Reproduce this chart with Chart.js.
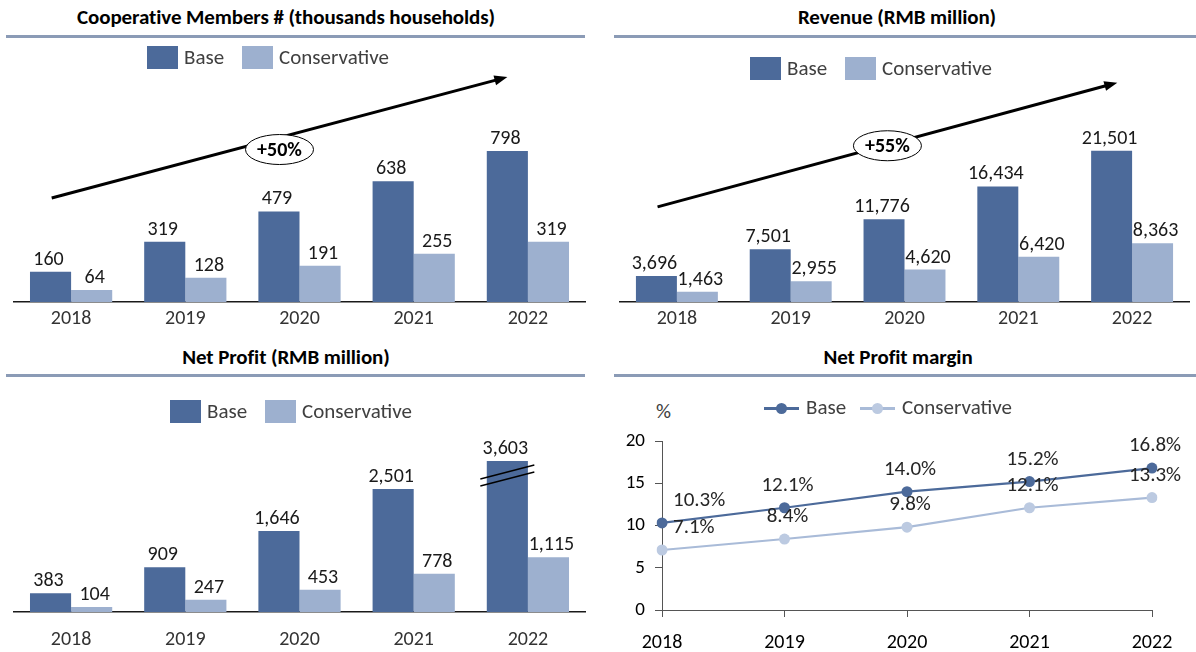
<!DOCTYPE html>
<html>
<head>
<meta charset="utf-8">
<title>Cooperative forecast</title>
<script src="https://cdn.jsdelivr.net/npm/chart.js@4.4.0/dist/chart.umd.min.js"></script>
<style>
  body { margin: 0; width: 1196px; height: 652px; position: relative; overflow: hidden; background: #fff;
         font-family: Carlito, Lato, sans-serif; }
  canvas { position: absolute; }
  .title { position: absolute; width: 600px; text-align: center; font-weight: bold; font-size: 21px;
           line-height: 24px; color: #000; letter-spacing: -0.1px; white-space: nowrap; }
  .rule { position: absolute; height: 3px; background: #8b9bb6; }
  .lg { position: absolute; font-size: 21px; line-height: 24px; color: #404040; white-space: nowrap; }
  .sw { position: absolute; width: 31px; height: 23px; }
  .ln { position: absolute; height: 3px; width: 35px; }
  .dot { position: absolute; width: 11px; height: 11px; border-radius: 50%; }
</style>
</head>
<body>

<div class="title" style="left:-14px;top:5px">Cooperative Members # (thousands households)</div>
<div class="rule" style="left:6px;top:35px;width:579px"></div>
<div class="title" style="left:597px;top:5px">Revenue (RMB million)</div>
<div class="rule" style="left:614px;top:35px;width:582px"></div>
<div class="title" style="left:-14px;top:345px">Net Profit (RMB million)</div>
<div class="rule" style="left:6px;top:374px;width:579px"></div>
<div class="title" style="left:598px;top:345px">Net Profit margin</div>
<div class="rule" style="left:614px;top:374px;width:582px"></div>
<div class="lg" style="left:656px;top:399px">%</div>

<canvas id="membersChart" width="600" height="330" style="left:0;top:0"></canvas>
<canvas id="revenueChart" width="596" height="330" style="left:600px;top:0"></canvas>
<canvas id="profitChart" width="600" height="322" style="left:0;top:330px"></canvas>
<canvas id="marginChart" width="596" height="322" style="left:600px;top:330px"></canvas>

<script>
// Data
const years = ["2018", "2019", "2020", "2021", "2022"];
const seriesNames = ["Base", "Conservative"];

const membersBase = [160, 319, 479, 638, 798];
const membersConservative = [64, 128, 191, 255, 319];

const revenueBase = [3696, 7501, 11776, 16434, 21501];
const revenueConservative = [1463, 2955, 4620, 6420, 8363];

const profitBase = [383, 909, 1646, 2501, 3603];
const profitConservative = [104, 247, 453, 778, 1115];

const marginBase = [10.3, 12.1, 14.0, 15.2, 16.8];
const marginConservative = [7.1, 8.4, 9.8, 12.1, 13.3];
const marginTicks = [0, 5, 10, 15, 20];

// Colours
const darkBlue = "#4c6a9a";
const lightBlue = "#9db0cf";
const lineLight = "#a9bbd8";
const dotLight = "#bccae1";
const fontFamily = "Carlito, Lato, sans-serif";

Chart.defaults.font.family = fontFamily;
Chart.defaults.animation = false;

/**
 * Write the value labels above the bars
 */
const barLabels = {
  id: "barLabels",
  afterDatasetsDraw(chart, args, opts) {
    const ctx = chart.ctx;
    ctx.save();
    ctx.font = "20px " + fontFamily;
    ctx.fillStyle = "#1a1a1a";
    ctx.textAlign = "center";
    ctx.textBaseline = "alphabetic";
    chart.data.datasets.forEach(function (ds, i) {
      chart.getDatasetMeta(i).data.forEach(function (bar, j) {
        const top = Math.max(bar.y, chart.chartArea.top);
        ctx.fillText(ds.data[j].toLocaleString("en-US"), bar.x + opts.shift[i], top - 7);
      });
    });
    ctx.restore();
  },
};

/**
 * Growth arrow with the circled percentage
 */
const trendArrow = {
  id: "trendArrow",
  afterDatasetsDraw(chart, args, opts) {
    if (!opts.from) return;
    const ctx = chart.ctx;
    const xs = chart.scales.x;
    const ys = chart.scales.y;
    const x1 = xs.getPixelForValue(opts.from[0]);
    const y1 = ys.getPixelForValue(opts.from[1]);
    const x2 = xs.getPixelForValue(opts.to[0]);
    const y2 = ys.getPixelForValue(opts.to[1]);
    const ang = Math.atan2(y2 - y1, x2 - x1);
    ctx.save();
    ctx.strokeStyle = "#000";
    ctx.fillStyle = "#000";
    ctx.lineWidth = 3;
    ctx.beginPath();
    ctx.moveTo(x1, y1);
    ctx.lineTo(x2 - 10 * Math.cos(ang), y2 - 10 * Math.sin(ang));
    ctx.stroke();
    ctx.beginPath();
    ctx.moveTo(x2, y2);
    ctx.lineTo(x2 - 13 * Math.cos(ang) + 5 * Math.sin(ang), y2 - 13 * Math.sin(ang) - 5 * Math.cos(ang));
    ctx.lineTo(x2 - 13 * Math.cos(ang) - 5 * Math.sin(ang), y2 - 13 * Math.sin(ang) + 5 * Math.cos(ang));
    ctx.closePath();
    ctx.fill();
    // ellipse
    const cx = x1 + (x2 - x1) * opts.t;
    const cy = y1 + (y2 - y1) * opts.t + opts.dy;
    ctx.beginPath();
    ctx.ellipse(cx, cy, 34, 15, 0, 0, Math.PI * 2);
    ctx.fillStyle = "#fff";
    ctx.fill();
    ctx.lineWidth = 1;
    ctx.stroke();
    ctx.fillStyle = "#000";
    ctx.font = "bold 20px " + fontFamily;
    ctx.textAlign = "center";
    ctx.textBaseline = "middle";
    ctx.fillText(opts.label, cx, cy + 1);
    ctx.restore();
  },
};

/**
 * Break marks on a truncated bar
 */
const axisBreak = {
  id: "axisBreak",
  afterDatasetsDraw(chart, args, opts) {
    if (opts.index === undefined) return;
    const bar = chart.getDatasetMeta(opts.dataset).data[opts.index];
    const top = chart.chartArea.top;
    const ctx = chart.ctx;
    ctx.save();
    ctx.strokeStyle = "#000";
    ctx.lineWidth = 1.3;
    [0, 7].forEach(function (off) {
      ctx.beginPath();
      ctx.moveTo(bar.x - 27, top + 18 + off);
      ctx.lineTo(bar.x + 27, top + 4 + off);
      ctx.stroke();
    });
    ctx.restore();
  },
};

/**
 * Percent labels on the margin lines
 */
const pointLabels = {
  id: "pointLabels",
  afterDatasetsDraw(chart) {
    const ctx = chart.ctx;
    ctx.save();
    ctx.font = "21px " + fontFamily;
    ctx.fillStyle = "#262626";
    ctx.textBaseline = "middle";
    chart.data.datasets.forEach(function (ds, i) {
      chart.getDatasetMeta(i).data.forEach(function (pt, j) {
        const text = ds.data[j].toFixed(1) + "%";
        if (j === 0) {
          ctx.textAlign = "left";
          ctx.fillText(text, pt.x + 11, pt.y - 22);
        } else {
          ctx.textAlign = "center";
          ctx.fillText(text, pt.x + 3, pt.y - 22);
        }
      });
    });
    ctx.restore();
  },
};

/**
 * Grouped bar chart for one panel
 */
function createBarChart(id, base, conservative, cfg) {
  const ctx = document.getElementById(id).getContext("2d");
  return new Chart(ctx, {
    type: "bar",
    data: {
      labels: years,
      datasets: [
        { label: seriesNames[0], data: base, backgroundColor: darkBlue, clip: 0 },
        { label: seriesNames[1], data: conservative, backgroundColor: lightBlue, clip: 0 },
      ],
    },
    options: {
      responsive: false,
      layout: { padding: cfg.padding },
      datasets: { bar: { categoryPercentage: 0.72, barPercentage: 1 } },
      scales: {
        x: {
          grid: { display: false, drawTicks: false },
          border: { display: true, color: "#1a1a1a", width: 1.5 },
          ticks: { color: "#333", font: { size: 20 }, padding: cfg.tickPadding },
          afterFit: function (scale) { scale.height = cfg.axisHeight; },
        },
        y: { display: false, min: 0, max: cfg.max },
      },
      plugins: {
        legend: { display: false },
        tooltip: { enabled: false },
        barLabels: { shift: [-2, 3] },
        trendArrow: cfg.arrow || {},
        axisBreak: cfg.brk || {},
      },
    },
    plugins: [barLabels, trendArrow, axisBreak],
  });
}

/**
 * HTML legend with coloured boxes
 */
function addBoxLegend(x, y, gap2) {
  const colors = [darkBlue, lightBlue];
  const offsets = [0, gap2];
  seriesNames.forEach(function (name, i) {
    const sw = document.createElement("div");
    sw.className = "sw";
    sw.style.left = x + offsets[i] + "px";
    sw.style.top = y + "px";
    sw.style.background = colors[i];
    document.body.appendChild(sw);
    const tx = document.createElement("div");
    tx.className = "lg";
    tx.textContent = name;
    tx.style.left = x + offsets[i] + 37 + "px";
    tx.style.top = y - 1 + "px";
    document.body.appendChild(tx);
  });
}

function addLineLegend(x, y, gap2) {
  const lines = [darkBlue, lineLight];
  const dots = [darkBlue, dotLight];
  const offsets = [0, gap2];
  seriesNames.forEach(function (name, i) {
    const ln = document.createElement("div");
    ln.className = "ln";
    ln.style.left = x + offsets[i] + "px";
    ln.style.top = y - 1 + "px";
    ln.style.background = lines[i];
    document.body.appendChild(ln);
    const dot = document.createElement("div");
    dot.className = "dot";
    dot.style.left = x + offsets[i] + 12 + "px";
    dot.style.top = y - 5 + "px";
    dot.style.background = dots[i];
    document.body.appendChild(dot);
    const tx = document.createElement("div");
    tx.className = "lg";
    tx.textContent = name;
    tx.style.left = x + offsets[i] + 42 + "px";
    tx.style.top = y - 13 + "px";
    document.body.appendChild(tx);
  });
}

document.addEventListener("DOMContentLoaded", function () {
  createBarChart("membersChart", membersBase, membersConservative, {
    padding: { left: 14, right: 15, top: 75, bottom: 0 },
    axisHeight: 28,
    tickPadding: 5,
    max: 1200,
    arrow: { from: [-0.17, 550], to: [3.82, 1189], t: 0.5, dy: 12, label: "+50%" },
  });

  createBarChart("revenueChart", revenueBase, revenueConservative, {
    padding: { left: 20, right: 7, top: 77, bottom: 0 },
    axisHeight: 28,
    tickPadding: 5,
    max: 32000,
    arrow: { from: [-0.17, 13530], to: [3.87, 31200], t: 0.5, dy: 1, label: "+55%" },
  });

  createBarChart("profitChart", profitBase, profitConservative, {
    padding: { left: 14, right: 15, top: 131, bottom: 0 },
    axisHeight: 40,
    tickPadding: 16,
    max: 3070,
    brk: { dataset: 0, index: 4 },
  });

  const mctx = document.getElementById("marginChart").getContext("2d");
  new Chart(mctx, {
    type: "line",
    data: {
      labels: years,
      datasets: [
        {
          label: seriesNames[0], data: marginBase, borderColor: darkBlue, backgroundColor: darkBlue,
          borderWidth: 2.2, pointRadius: 5.5, pointBorderWidth: 0,
        },
        {
          label: seriesNames[1], data: marginConservative, borderColor: lineLight, backgroundColor: dotLight,
          borderWidth: 2.2, pointRadius: 5.5, pointBorderWidth: 0,
        },
      ],
    },
    options: {
      responsive: false,
      layout: { padding: { left: 0, right: 44, top: 111, bottom: 0 } },
      scales: {
        x: {
          grid: { drawOnChartArea: false, tickLength: 7, color: "#555" },
          border: { color: "#555", width: 1 },
          ticks: { color: "#000", font: { size: 20 }, padding: 14 },
          afterFit: function (scale) { scale.height = 42; },
        },
        y: {
          min: 0, max: 20,
          afterBuildTicks: function (scale) { scale.ticks = marginTicks.map((v) => ({ value: v })); },
          grid: { drawOnChartArea: false, tickLength: 7, color: "#555" },
          border: { color: "#555", width: 1 },
          ticks: { color: "#000", font: { size: 19 }, padding: 10 },
          afterFit: function (scale) { scale.width = 62; },
        },
      },
      plugins: { legend: { display: false }, tooltip: { enabled: false } },
    },
    plugins: [pointLabels],
  });

  addBoxLegend(147, 46, 95);
  addBoxLegend(750, 57, 95);
  addBoxLegend(170, 400, 95);
  addLineLegend(764, 408, 96);
});
</script>
</body>
</html>
